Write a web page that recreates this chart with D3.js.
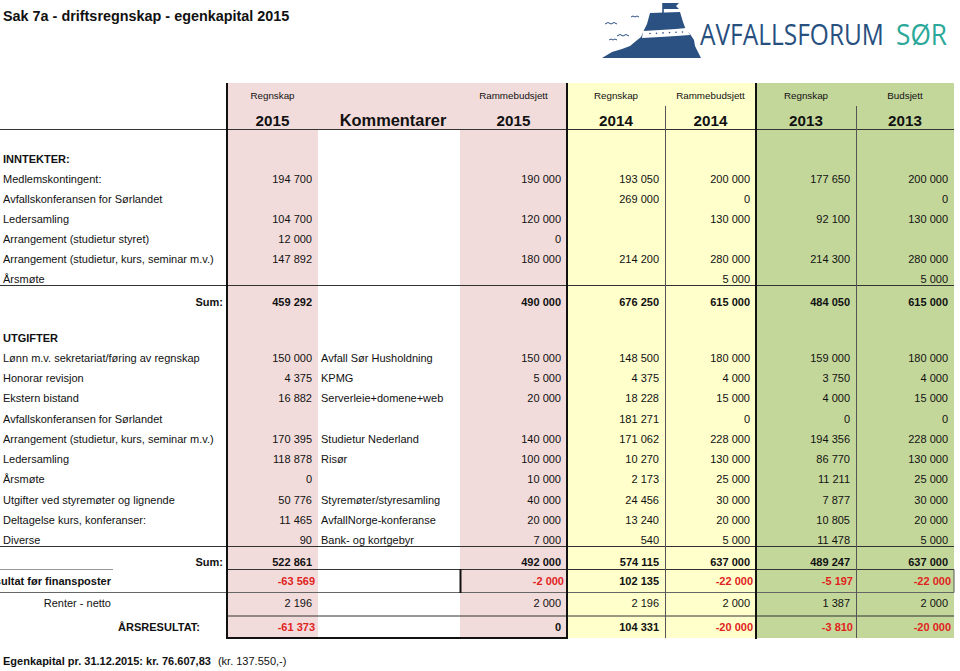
<!DOCTYPE html>
<html>
<head>
<meta charset="utf-8">
<script src="https://cdn.jsdelivr.net/npm/d3@7/dist/d3.min.js"></script>
<style>
  html, body { margin: 0; padding: 0; background: #fff; }
  svg { display: block; font-family: "Liberation Sans", Arial, sans-serif; }
</style>
</head>
<body>
<svg id="chart" width="960" height="671"></svg>
<script>
// ---------------- DATA ----------------
const title = "Sak 7a - driftsregnskap - egenkapital 2015";
const headerTop = ["Regnskap", "", "Rammebudsjett", "Regnskap", "Rammebudsjett", "Regnskap", "Budsjett"];
const headerYear = ["2015", "Kommentarer", "2015", "2014", "2014", "2013", "2013"];

const incomeLabels = [
  "Medlemskontingent:",
  "Avfallskonferansen for Sørlandet",
  "Ledersamling",
  "Arrangement (studietur styret)",
  "Arrangement (studietur, kurs, seminar m.v.)",
  "Årsmøte"
];
const incRegnskap2015 = [194700, null, 104700, 12000, 147892, null];
const incRamme2015    = [190000, null, 120000, 0, 180000, null];
const incRegnskap2014 = [193050, 269000, null, null, 214200, null];
const incRamme2014    = [200000, 0, 130000, null, 280000, 5000];
const incRegnskap2013 = [177650, null, 92100, null, 214300, null];
const incBudsjett2013 = [200000, 0, 130000, null, 280000, 5000];

const expenseLabels = [
  "Lønn m.v. sekretariat/føring av regnskap",
  "Honorar revisjon",
  "Ekstern bistand",
  "Avfallskonferansen for Sørlandet",
  "Arrangement (studietur, kurs, seminar m.v.)",
  "Ledersamling",
  "Årsmøte",
  "Utgifter ved styremøter og lignende",
  "Deltagelse kurs, konferanser:",
  "Diverse"
];
const expComments = [
  "Avfall Sør Husholdning", "KPMG", "Serverleie+domene+web", "",
  "Studietur Nederland", "Risør", "", "Styremøter/styresamling",
  "AvfallNorge-konferanse", "Bank- og kortgebyr"
];
const expRegnskap2015 = [150000, 4375, 16882, null, 170395, 118878, 0, 50776, 11465, 90];
const expRamme2015    = [150000, 5000, 20000, null, 140000, 100000, 10000, 40000, 20000, 7000];
const expRegnskap2014 = [148500, 4375, 18228, 181271, 171062, 10270, 2173, 24456, 13240, 540];
const expRamme2014    = [180000, 4000, 15000, 0, 228000, 130000, 25000, 30000, 20000, 5000];
const expRegnskap2013 = [159000, 3750, 4000, 0, 194356, 86770, 11211, 7877, 10805, 11478];
const expBudsjett2013 = [180000, 4000, 15000, 0, 228000, 130000, 25000, 30000, 20000, 5000];

// totals: [sum income, sum expenses, resultat før finansposter, renter - netto, årsresultat]
const totalLabels = ["Sum:", "Sum:", "Resultat før finansposter", "Renter - netto", "ÅRSRESULTAT:"];
const totRegnskap2015 = [459292, 522861, -63569, 2196, -61373];
const totRamme2015    = [490000, 492000, -2000, 2000, 0];
const totRegnskap2014 = [676250, 574115, 102135, 2196, 104331];
const totRamme2014    = [615000, 637000, -22000, 2000, -20000];
const totRegnskap2013 = [484050, 489247, -5197, 1387, -3810];
const totBudsjett2013 = [615000, 637000, -22000, 2000, -20000];

const footerBold = "Egenkapital  pr. 31.12.2015: kr. 76.607,83";
const footerNormal = "(kr. 137.550,-)";

// ---------------- LAYOUT ----------------
const svg = d3.select("#chart");
const INK = "#111";
const RED = "#e0231d";
const PINK = "#f2dcdb", YELLOW = "#ffffcc", GREEN = "#c4d79b";

const colKeys = ["r2015", "komm", "rb2015", "r2014", "rb2014", "r2013", "b2013"];
const colEdges = [227, 318, 460, 567, 665, 756, 856, 954];
const xLeft = d3.scaleOrdinal().domain(colKeys).range(colEdges.slice(0, 7));
const xRight = d3.scaleOrdinal().domain(colKeys).range(colEdges.slice(1));
const fillOf = d3.scaleOrdinal().domain(colKeys).range([PINK, "#ffffff", PINK, YELLOW, YELLOW, GREEN, GREEN]);

const TOP = 83, HEAD_MID = 106, HEAD_BOT = 129, BOTTOM = 638;

const yInc = d3.scaleLinear().domain([0, incomeLabels.length - 1]).range([178.8, 279]);
const yExp = d3.scaleLinear().domain([0, expenseLabels.length - 1]).range([358, 540]);
const yTot = d3.scaleOrdinal().domain(d3.range(5)).range([302, 562, 581, 603, 627]);

const valueCols = [
  { key: "r2015", inc: incRegnskap2015, exp: expRegnskap2015, tot: totRegnskap2015 },
  { key: "rb2015", inc: incRamme2015, exp: expRamme2015, tot: totRamme2015 },
  { key: "r2014", inc: incRegnskap2014, exp: expRegnskap2014, tot: totRegnskap2014 },
  { key: "rb2014", inc: incRamme2014, exp: expRamme2014, tot: totRamme2014 },
  { key: "r2013", inc: incRegnskap2013, exp: expRegnskap2013, tot: totRegnskap2013 },
  { key: "b2013", inc: incBudsjett2013, exp: expBudsjett2013, tot: totBudsjett2013 }
];

const locale = d3.formatLocale({ decimal: ",", thousands: " ", grouping: [3], currency: ["", ""], minus: "-" });
const fmt = locale.format(",d");

// ---------------- BACKGROUNDS ----------------
const bg = svg.append("g");
bg.selectAll("rect.head").data(colKeys).join("rect")
  .attr("x", d => xLeft(d)).attr("y", TOP)
  .attr("width", d => xRight(d) - xLeft(d)).attr("height", HEAD_BOT - TOP)
  .attr("fill", d => d === "komm" ? PINK : fillOf(d));
bg.selectAll("rect.body").data(colKeys).join("rect")
  .attr("x", d => xLeft(d)).attr("y", HEAD_BOT)
  .attr("width", d => xRight(d) - xLeft(d)).attr("height", BOTTOM - HEAD_BOT)
  .attr("fill", d => fillOf(d));

// ---------------- LINES ----------------
const lines = svg.append("g").attr("fill", "none");
function hline(x1, x2, y, w, c) {
  lines.append("line").attr("x1", x1).attr("x2", x2).attr("y1", y).attr("y2", y)
    .attr("stroke-width", w || 1).attr("stroke", c || INK);
}
function vline(x, y1, y2, w, c) {
  lines.append("line").attr("x1", x).attr("x2", x).attr("y1", y1).attr("y2", y2)
    .attr("stroke-width", w || 1).attr("stroke", c || INK);
}
hline(0, 954, HEAD_BOT + 0.5, 1, "#333");
hline(0, 954, 285.5, 1, "#333");
hline(0, 954, 546.5, 1, "#333");
hline(0, 113, 569.5, 1, "#999");
hline(227, 954, 569.5, 1, "#333");
hline(0, 954, 592.5, 1, "#666");
hline(227, 954, 616, 1, "#333");
vline(954, 569.5, 592.5, 1, "#555");
vline(460.5, 569, 593, 2, INK);
vline(xLeft("rb2014") + 0.5, HEAD_MID, BOTTOM, 1, "#555");
vline(xLeft("b2013") + 0.5, HEAD_MID, BOTTOM, 1, "#555");
vline(xLeft("r2015"), TOP, BOTTOM + 1, 2, INK);
vline(xLeft("r2014"), TOP, BOTTOM + 1, 2, INK);
vline(xLeft("r2013"), TOP, BOTTOM + 1, 2, INK);
hline(226, 568, BOTTOM, 2, INK);

// ---------------- TEXT ----------------
const txt = svg.append("g").attr("fill", INK);

txt.append("text").attr("x", 3).attr("y", 21).attr("font-size", 14.4).attr("font-weight", "bold")
  .text(title);

txt.selectAll("text.ht").data(colKeys).join("text")
  .attr("x", d => (xLeft(d) + xRight(d)) / 2).attr("y", 98.5)
  .attr("text-anchor", "middle").attr("font-size", 9.8)
  .text((d, i) => headerTop[i]);
txt.selectAll("text.hy").data(colKeys).join("text")
  .attr("x", d => (xLeft(d) + xRight(d)) / 2 + (d === "komm" ? 4 : 0)).attr("y", 125.5)
  .attr("text-anchor", "middle").attr("font-size", d => d === "komm" ? 16.4 : 15.2).attr("font-weight", "bold")
  .text((d, i) => headerYear[i]);

const FS = 11, BASE = 4;
txt.append("text").attr("x", 3).attr("y", 159 + BASE).attr("font-size", FS).attr("font-weight", "bold").text("INNTEKTER:");
txt.append("text").attr("x", 3).attr("y", 338 + BASE).attr("font-size", FS).attr("font-weight", "bold").text("UTGIFTER");

txt.selectAll("text.il").data(incomeLabels).join("text")
  .attr("x", 3).attr("y", (d, i) => yInc(i) + BASE).attr("font-size", FS).text(d => d);
txt.selectAll("text.el").data(expenseLabels).join("text")
  .attr("x", 3).attr("y", (d, i) => yExp(i) + BASE).attr("font-size", FS).text(d => d);
txt.selectAll("text.cm").data(expComments).join("text")
  .attr("x", xLeft("komm") + 3).attr("y", (d, i) => yExp(i) + BASE).attr("font-size", FS).text(d => d);

const totLabelX = [223, 223, 111, 111, 200];
const totBold = [true, true, true, false, true];
txt.selectAll("text.tl").data(totalLabels).join("text")
  .attr("x", (d, i) => totLabelX[i]).attr("y", (d, i) => yTot(i) + BASE)
  .attr("text-anchor", "end").attr("font-size", FS)
  .attr("font-weight", (d, i) => totBold[i] ? "bold" : "normal").text(d => d);

valueCols.forEach(col => {
  const xr = xRight(col.key) - 6;
  const g = txt.append("g").attr("text-anchor", "end").attr("font-size", FS);
  g.selectAll("text.iv").data(col.inc.map((v, i) => ({ v, i })).filter(d => d.v !== null)).join("text")
    .attr("x", xr).attr("y", d => yInc(d.i) + BASE).text(d => fmt(d.v));
  g.selectAll("text.ev").data(col.exp.map((v, i) => ({ v, i })).filter(d => d.v !== null)).join("text")
    .attr("x", xr).attr("y", d => yExp(d.i) + BASE).text(d => fmt(d.v));
  g.selectAll("text.tv").data(col.tot.map((v, i) => ({ v, i }))).join("text")
    .attr("x", d => d.v < 0 ? xr + 3 : xr)
    .attr("y", d => yTot(d.i) + BASE)
    .attr("font-weight", d => totBold[d.i] ? "bold" : "normal")
    .attr("fill", d => d.v < 0 ? RED : INK)
    .text(d => fmt(d.v));
});

const ft = txt.append("text").attr("x", 3).attr("y", 665).attr("font-size", FS);
ft.append("tspan").attr("font-weight", "bold").text(footerBold);
ft.append("tspan").attr("dx", 7).text(footerNormal);

// ---------------- LOGO ----------------
const logo = svg.append("g");
const BLUE = "#2b5182";
logo.append("path").attr("fill", BLUE)
  .attr("d", "M602,58 L612,52 L622,49 L630,46 L636,41 L641,37 L644,30 L647,24 L650,13 L680,12 L683,22 L686,30 L690,34 L694,40 L695,46 L698,52 L701,58 Z");
logo.append("line").attr("x1", 663).attr("x2", 663).attr("y1", 3).attr("y2", 13).attr("stroke", BLUE).attr("stroke-width", 1.6);
logo.append("path").attr("fill", BLUE).attr("d", "M663,3 L679,3 L676,6 L679,9 L663,9 Z");
logo.append("path").attr("fill", "#ffffff")
  .attr("d", "M643,31 L660,30 L676,29 L686,28 L690,35 L676,36 L660,37 L642,38 Z");
logo.selectAll("circle.dot").data(d3.range(6)).join("circle")
  .attr("cx", d => 650 + d * 6.5).attr("cy", d => 33.5 - d * 0.3).attr("r", 0.8).attr("fill", BLUE);
const gulls = logo.append("g").attr("fill", "none").attr("stroke", BLUE).attr("stroke-width", 1);
gulls.append("path").attr("d", "M605,24 q3,-3 6,0 q3,-3 6,0");
gulls.append("path").attr("d", "M631,17 q2,-2 4,0 q2,-2 4,0");
gulls.append("path").attr("d", "M617,36 q3,-3 6,0 q3,-3 6,0");
gulls.append("path").attr("d", "M609,40 q2,-2 4,0 q2,-2 4,0");

function fitText(str, x, w, color) {
  const t = logo.append("text").attr("font-family", "'Open Sans', 'Noto Sans', sans-serif")
    .attr("font-size", 30).attr("fill", color).text(str);
  const natural = t.node().getComputedTextLength();
  t.attr("transform", `translate(${x},45) scale(${w / natural},1)`);
}
fitText("AVFALLSFORUM", 700, 184, "#28507f");
fitText("SØR", 896, 51, "#2ba89a");
</script>
</body>
</html>
